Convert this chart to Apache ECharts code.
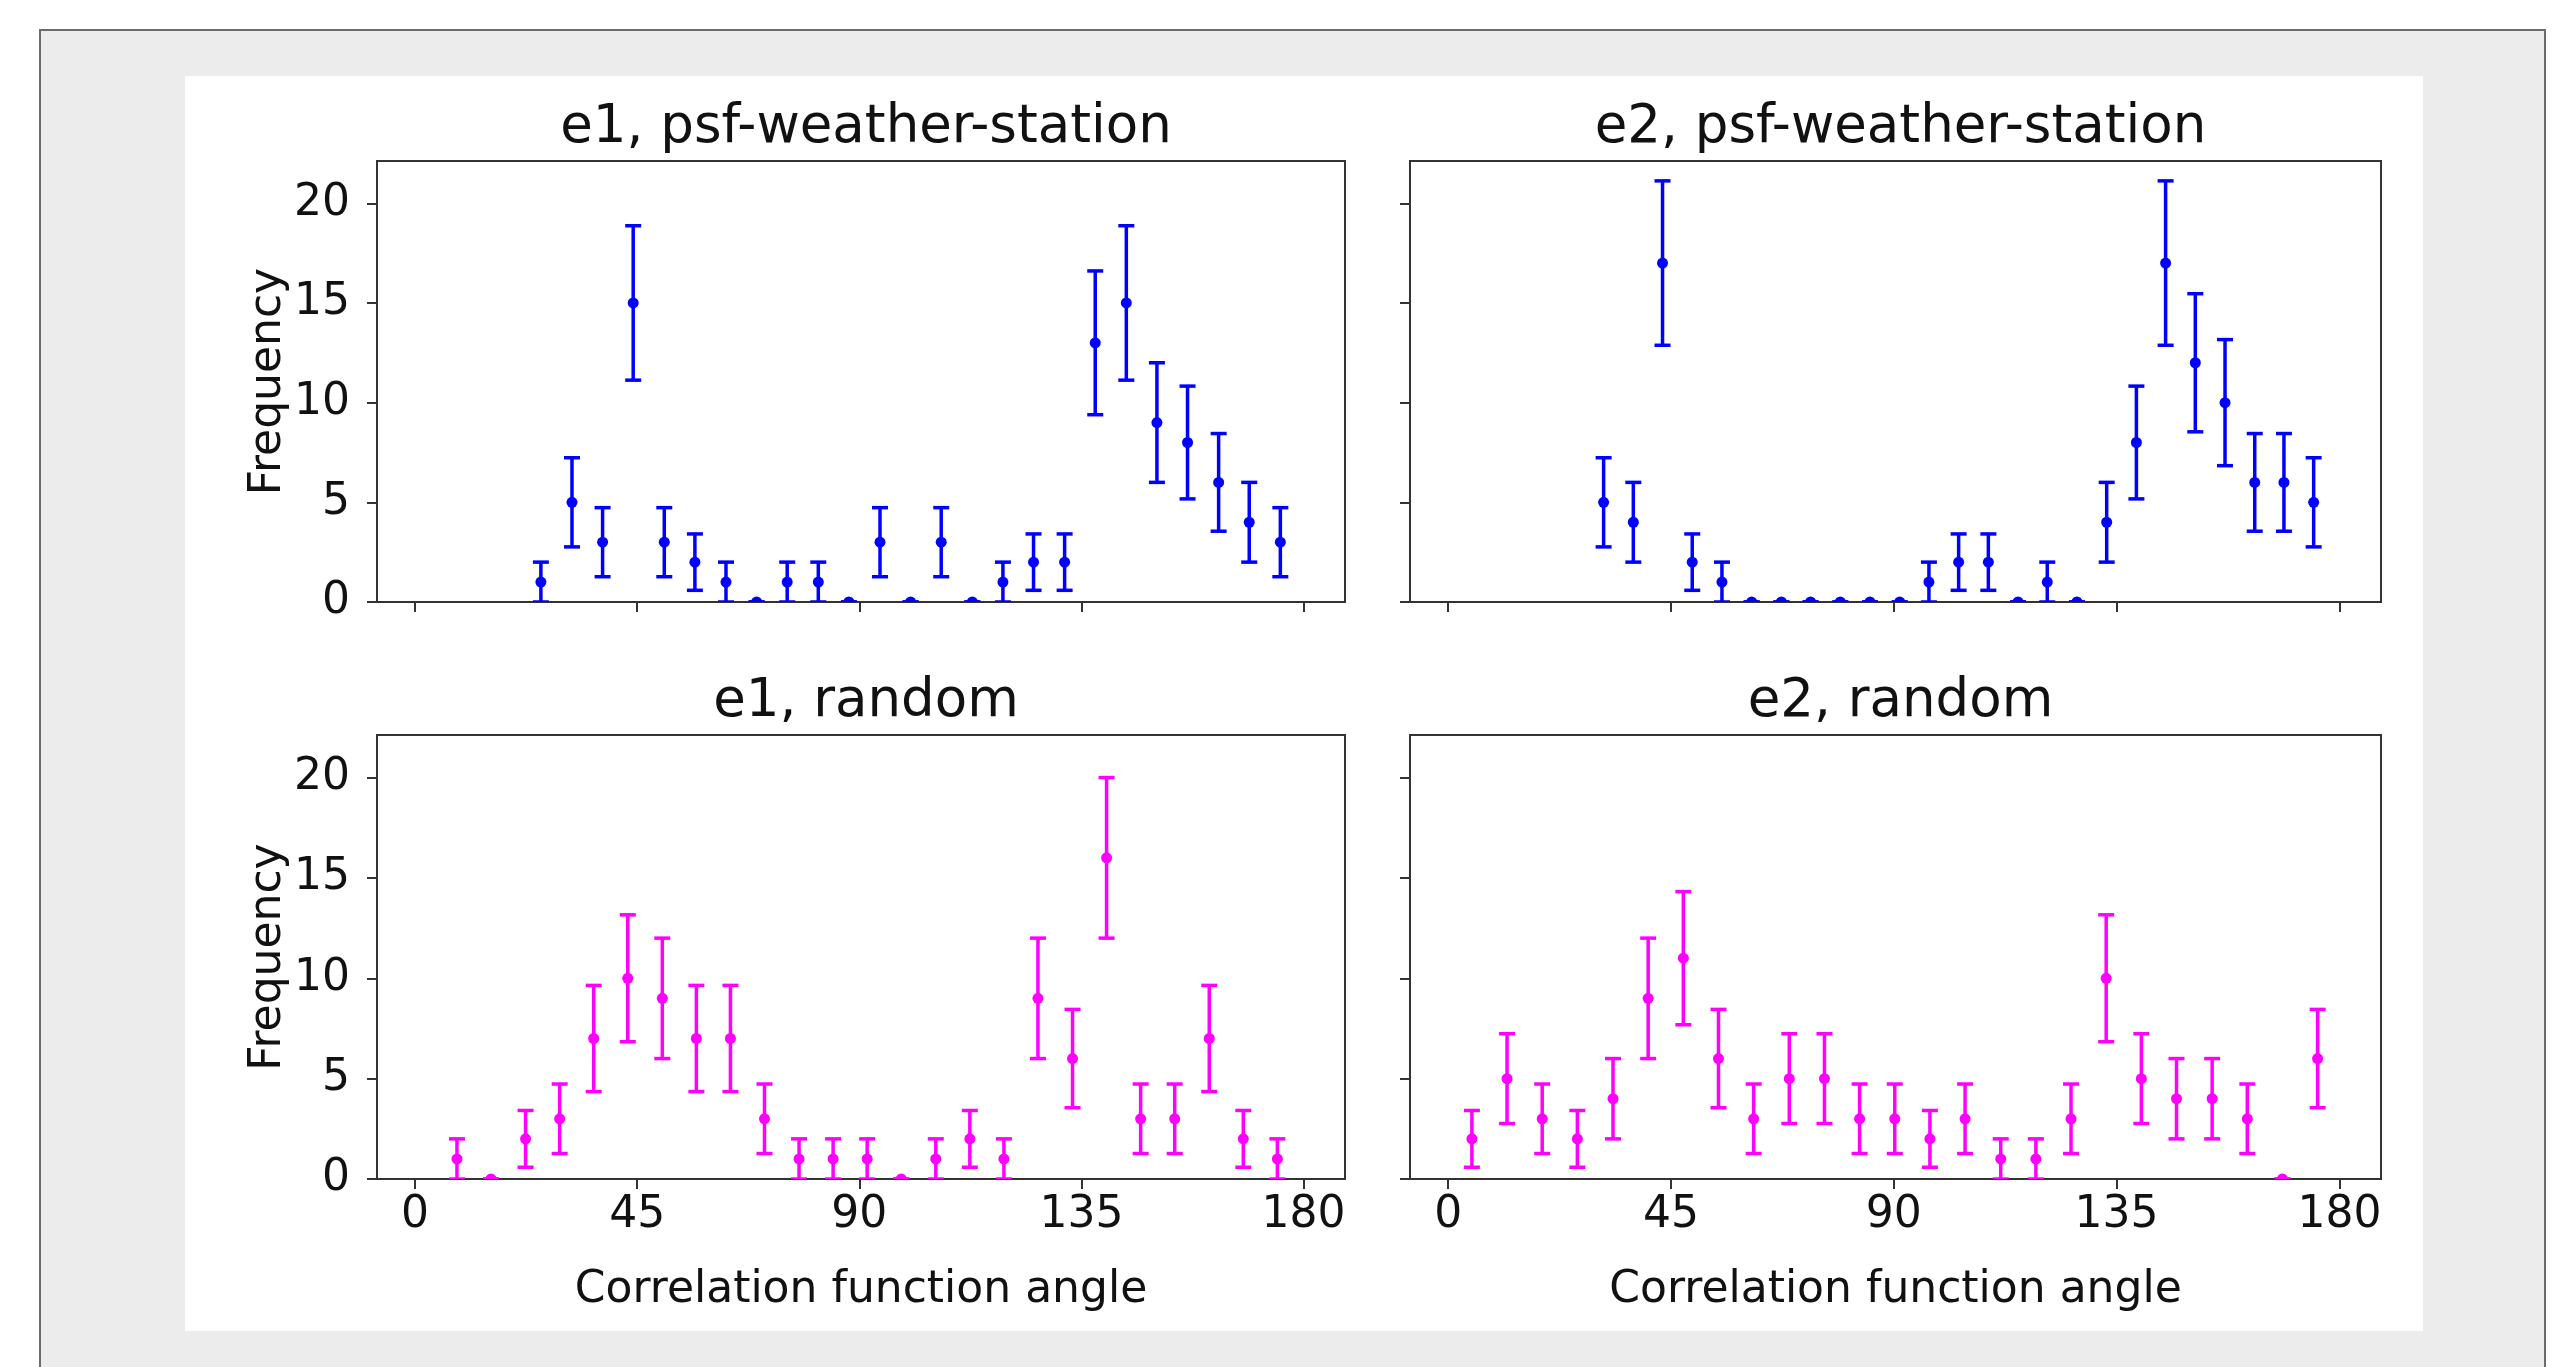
<!DOCTYPE html>
<html>
<head>
<meta charset="utf-8">
<title>Correlation function angle histograms</title>
<script src="https://cdn.jsdelivr.net/npm/echarts@6/dist/echarts.min.js"></script>
<style>
  html, body {
    margin: 0;
    padding: 0;
    width: 2560px;
    height: 1367px;
    overflow: hidden;
    background: #fff;
  }
  .frame {
    position: absolute;
    left: 39px;
    top: 29px;
    width: 2507px;
    height: 1400px;
    box-sizing: border-box;
    border: 2px solid #6b6b6b;
    background: #ececec;
  }
  .card {
    position: absolute;
    left: 185px;
    top: 76px;
    width: 2238px;
    height: 1255px;
    background: #fff;
  }
  #chart {
    position: absolute;
    left: 0;
    top: 0;
    width: 2560px;
    height: 1367px;
  }
</style>
</head>
<body>
<div class="frame"></div>
<div class="card"></div>
<div id="chart"></div>
<script>
// bin centres (degrees)
const e1PsfAngles = [25.5, 31.8, 38.0, 44.2, 50.5, 56.7, 63.0, 69.2, 75.4, 81.7, 87.9, 94.2, 100.4,
  106.6, 112.9, 119.1, 125.3, 131.6, 137.8, 144.1, 150.3, 156.5, 162.8, 169.0, 175.3];
const e2PsfAngles = [31.4, 37.4, 43.3, 49.3, 55.3, 61.3, 67.3, 73.2, 79.2, 85.2, 91.2, 97.1, 103.1,
  109.1, 115.1, 121.0, 127.0, 133.0, 139.0, 144.9, 150.9, 156.9, 162.9, 168.8, 174.8];
const e1RandomAngles = [8.5, 15.4, 22.4, 29.3, 36.2, 43.1, 50.1, 57.0, 63.9, 70.8, 77.8, 84.7, 91.6,
  98.5, 105.5, 112.4, 119.3, 126.2, 133.2, 140.1, 147.0, 153.9, 160.9, 167.8, 174.7];
const e2RandomAngles = [4.8, 11.9, 19.0, 26.1, 33.3, 40.4, 47.5, 54.6, 61.7, 68.9, 76.0, 83.1, 90.2,
  97.3, 104.4, 111.6, 118.7, 125.8, 132.9, 140.0, 147.1, 154.3, 161.4, 168.5, 175.6];

// counts per bin
const e1PsfCounts = [1, 5, 3, 15, 3, 2, 1, 0, 1, 1, 0, 3, 0, 3, 0, 1, 2, 2, 13, 15, 9, 8, 6, 4, 3];
const e2PsfCounts = [5, 4, 17, 2, 1, 0, 0, 0, 0, 0, 0, 1, 2, 2, 0, 1, 0, 4, 8, 17, 12, 10, 6, 6, 5];
const e1RandomCounts = [1, 0, 2, 3, 7, 10, 9, 7, 7, 3, 1, 1, 1, 0, 1, 2, 1, 9, 6, 16, 3, 3, 7, 2, 1];
const e2RandomCounts = [2, 5, 3, 2, 4, 9, 11, 6, 3, 5, 5, 3, 3, 2, 3, 1, 1, 3, 10, 5, 4, 4, 3, 0, 6];

const panelTitles = ['e1, psf-weather-station', 'e2, psf-weather-station', 'e1, random', 'e2, random'];
const xTicks = [0, 45, 90, 135, 180];
const yTicks = [0, 5, 10, 15, 20];

const FONT = 'DejaVu Sans';
const INK = '#111';
const SPINE = '#333';

// panel boxes in page pixels
const grids = [
  { left: 377, top: 161, width: 968, height: 441 },
  { left: 1410, top: 161, width: 971, height: 441 },
  { left: 377, top: 735, width: 968, height: 444 },
  { left: 1410, top: 735, width: 971, height: 444 }
];

const panels = [
  { angles: e1PsfAngles, counts: e1PsfCounts, color: '#0000ff' },
  { angles: e2PsfAngles, counts: e2PsfCounts, color: '#0000ff' },
  { angles: e1RandomAngles, counts: e1RandomCounts, color: '#ff00ff' },
  { angles: e2RandomAngles, counts: e2RandomCounts, color: '#ff00ff' }
];

// poisson error bar: line, two caps and a dot
const errorBarRenderer = (color) => (params, api) => {
  const x = api.value(0);
  const y = api.value(1);
  const err = api.value(2);
  const hi = api.coord([x, y + err]);
  const lo = api.coord([x, y - err]);
  const mid = api.coord([x, y]);
  const cap = 8;
  const lineStyle = { stroke: color, lineWidth: 3.5 };
  return {
    type: 'group',
    children: [
      { type: 'line', shape: { x1: hi[0], y1: hi[1], x2: lo[0], y2: lo[1] }, style: lineStyle },
      { type: 'line', shape: { x1: hi[0] - cap, y1: hi[1], x2: hi[0] + cap, y2: hi[1] }, style: lineStyle },
      { type: 'line', shape: { x1: lo[0] - cap, y1: lo[1], x2: lo[0] + cap, y2: lo[1] }, style: lineStyle },
      { type: 'circle', shape: { cx: mid[0], cy: mid[1], r: 5.5 }, style: { fill: color } }
    ]
  };
};

const chart = echarts.init(document.getElementById('chart'), null, { renderer: 'canvas' });

const option = {
  animation: false,
  backgroundColor: 'transparent',
  title: panelTitles.map((t, i) => ({
    text: t,
    left: grids[i].left + grids[i].width / 2,
    top: i < 2 ? 97 : 671,
    textAlign: 'center',
    textStyle: { fontFamily: FONT, fontSize: 53, fontWeight: 'normal', color: INK }
  })),
  grid: grids.map(g => Object.assign({
    show: true,
    borderColor: SPINE,
    borderWidth: 2,
    backgroundColor: '#fff'
  }, g)),
  xAxis: grids.map((g, i) => {
    const bottom = i >= 2;
    return {
      type: 'value',
      gridIndex: i,
      min: -7.7,
      max: 188.4,
      name: bottom ? 'Correlation function angle' : '',
      nameLocation: 'middle',
      nameGap: 90,
      nameTextStyle: { fontFamily: FONT, fontSize: 44, color: INK },
      axisLine: { show: true, onZero: false, lineStyle: { color: SPINE, width: 2 } },
      axisTick: { show: true, length: 10, customValues: xTicks, lineStyle: { color: SPINE, width: 2 } },
      axisLabel: {
        show: bottom,
        customValues: xTicks,
        margin: 15,
        fontFamily: FONT,
        fontSize: 44,
        color: INK
      },
      splitLine: { show: false }
    };
  }),
  yAxis: grids.map((g, i) => {
    const left = i % 2 === 0;
    return {
      type: 'value',
      gridIndex: i,
      min: 0,
      max: 22.12,
      name: left ? 'Frequency' : '',
      nameLocation: 'middle',
      nameGap: 86,
      nameTextStyle: { fontFamily: FONT, fontSize: 44, color: INK },
      axisLine: { show: true, onZero: false, lineStyle: { color: SPINE, width: 2 } },
      axisTick: { show: true, length: 10, customValues: yTicks, lineStyle: { color: SPINE, width: 2 } },
      axisLabel: {
        show: left,
        customValues: yTicks,
        margin: 27,
        fontFamily: FONT,
        fontSize: 44,
        color: INK
      },
      splitLine: { show: false }
    };
  }),
  series: panels.map((p, i) => ({
    type: 'custom',
    xAxisIndex: i,
    yAxisIndex: i,
    clip: true,
    renderItem: errorBarRenderer(p.color),
    encode: { x: 0, y: 1 },
    data: p.angles.map((a, k) => [a, p.counts[k], Math.sqrt(p.counts[k])])
  }))
};

chart.setOption(option);
</script>
</body>
</html>
